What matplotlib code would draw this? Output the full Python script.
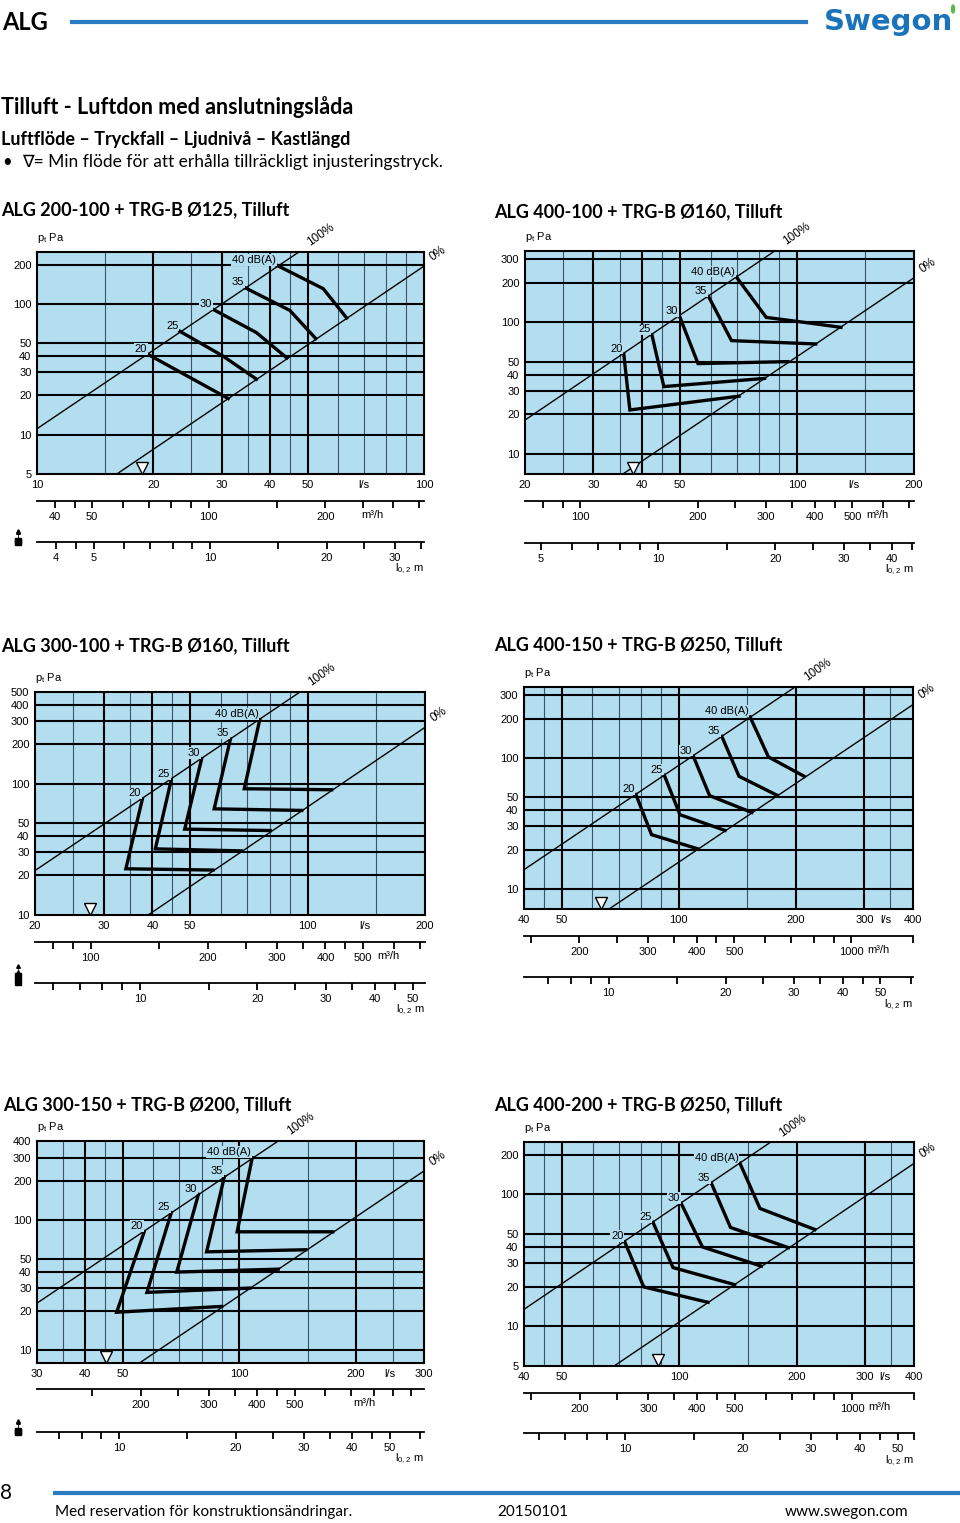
import matplotlib.pyplot as plt
from matplotlib.lines import Line2D
from matplotlib.patches import Ellipse
from matplotlib.ticker import NullLocator

plt.rcParams['font.family'] = ['Liberation Sans', 'DejaVu Sans']
TITLE_FONT = ['Lato', 'DejaVu Sans']

BG = '#b2def0'
BLUE = '#2a7bbf'
W, H = 960, 1523

LABELS = ["20", "25", "30", "35", "40 dB(A)"]

# ---------------- data ----------------
# 1) ALG 200-100 + TRG-B Ø125
p1_title = "ALG 200-100 + TRG-B Ø125, Tilluft"
p1_xlim, p1_ylim = (10, 100), (5, 250)
p1_xticks = [10, 20, 30, 40, 50, 100]
p1_yticks = [5, 10, 20, 30, 40, 50, 100, 200]
p1_hgrid = [10, 20, 30, 40, 50, 100, 200]
p1_vmajor = [20, 30, 40, 50]
p1_vminor = [15, 25, 35, 45, 60, 70, 80, 90]
p1_ls_at = 70
p1_open = [(10, 11.1), (47.5, 250)]       # 100 %
p1_closed = [(16.08, 5), (100, 195)]      # 0 %
p1_curves = [
    [(19.4, 41.0), (31.2, 18.9)],
    [(23.4, 61.8), (30.3, 39.8), (36.9, 26.6)],
    [(28.6, 90.5), (36.9, 60.4), (44.2, 38.7)],
    [(34.6, 132.5), (45.0, 89.4), (52.5, 54.4)],
    [(41.8, 197.0), (54.9, 131.0), (63.1, 78.2)],
]
p1_min_flow = 18.7
p1_m3h_ticks = [40, 45, 50, 60, 70, 80, 90, 100, 150, 200, 250, 300, 350]
p1_m3h_labels = [40, 50, 100, 200]
p1_m3h_unit_at = 265
p1_throw_per_ls = 0.357
p1_throw_ticks = [4, 4.5, 5, 6, 7, 8, 9, 10, 15, 20, 25, 30, 35]
p1_throw_labels = [4, 5, 10, 20, 30]

# 2) ALG 400-100 + TRG-B Ø160
p2_title = "ALG 400-100 + TRG-B Ø160, Tilluft"
p2_xlim, p2_ylim = (20, 200), (7.05, 348)
p2_xticks = [20, 30, 40, 50, 100, 200]
p2_yticks = [10, 20, 30, 40, 50, 100, 200, 300]
p2_hgrid = [10, 20, 30, 40, 50, 100, 200, 300]
p2_vmajor = [30, 40, 50, 100]
p2_vminor = [25, 35, 45, 60, 70, 80, 90, 150]
p2_ls_at = 140
p2_open = [(20, 18.1), (87.7, 348)]
p2_closed = [(35.7, 7.05), (200, 218)]
p2_curves = [
    [(35.9, 57.1), (37.2, 21.6), (71.0, 27.5)],
    [(42.4, 80.1), (45.5, 32.5), (82.6, 37.5)],
    [(50.0, 110.0), (55.7, 48.6), (94.8, 50.3)],
    [(59.3, 156.6), (67.9, 72.6), (111.8, 68.5)],
    [(70.0, 219.6), (83.4, 109.0), (109.0, 98.3), (129.8, 91.6)],
]
p2_min_flow = 38.0
p2_m3h_ticks = [80, 90, 100, 150, 200, 250, 300, 350, 400, 450, 500, 600, 700]
p2_m3h_labels = [100, 200, 300, 400, 500]
p2_m3h_unit_at = 580
p2_throw_per_ls = 0.2275
p2_throw_ticks = [5, 6, 7, 8, 9, 10, 15, 20, 25, 30, 35, 40, 45]
p2_throw_labels = [5, 10, 20, 30, 40]

# 3) ALG 300-100 + TRG-B Ø160
p3_title = "ALG 300-100 + TRG-B Ø160, Tilluft"
p3_xlim, p3_ylim = (20, 200), (10, 500)
p3_xticks = [20, 30, 40, 50, 100, 200]
p3_yticks = [10, 20, 30, 40, 50, 100, 200, 300, 400, 500]
p3_hgrid = [20, 30, 40, 50, 100, 200, 300, 400]
p3_vmajor = [30, 40, 50, 100]
p3_vminor = [25, 35, 45, 60, 70, 80, 90, 150]
p3_ls_at = 140
p3_open = [(20, 21.8), (95.6, 500)]
p3_closed = [(39.0, 10), (200, 269)]
p3_curves = [
    [(37.7, 76.4), (34.2, 22.5), (57.2, 22.0)],
    [(44.7, 107.0), (40.7, 31.9), (67.6, 30.8)],
    [(53.5, 155.0), (48.4, 45.1), (80.2, 44.0)],
    [(63.4, 219.0), (57.6, 64.4), (96.6, 62.6)],
    [(75.4, 308.0), (68.8, 91.6), (115.3, 90.0)],
]
p3_min_flow = 27.7
p3_m3h_ticks = [80, 90, 100, 150, 200, 250, 300, 350, 400, 450, 500, 600, 700]
p3_m3h_labels = [100, 200, 300, 400, 500]
p3_m3h_unit_at = 580
p3_throw_per_ls = 0.269
p3_throw_ticks = [6, 7, 8, 9, 10, 15, 20, 25, 30, 35, 40, 45, 50]
p3_throw_labels = [10, 20, 30, 40, 50]

# 4) ALG 400-150 + TRG-B Ø250
p4_title = "ALG 400-150 + TRG-B Ø250, Tilluft"
p4_xlim, p4_ylim = (40, 400), (7.04, 348)
p4_xticks = [40, 50, 100, 200, 300, 400]
p4_yticks = [10, 20, 30, 40, 50, 100, 200, 300]
p4_hgrid = [10, 20, 30, 40, 50, 100, 200, 300]
p4_vmajor = [50, 100, 200, 300]
p4_vminor = [45, 60, 70, 80, 90, 150, 350]
p4_ls_at = 340
p4_open = [(40, 14.05), (199, 348)]
p4_closed = [(66.2, 7.04), (400, 255.5)]
p4_curves = [
    [(77.6, 52.5), (85.1, 26.0), (112.2, 20.2)],
    [(91.8, 73.7), (100.7, 36.9), (131.5, 28.0)],
    [(109.0, 103.0), (120.0, 51.6), (154.0, 38.4)],
    [(129.0, 146.0), (142.8, 72.5), (179.0, 51.9)],
    [(152.5, 205.6), (170.0, 101.8), (210.0, 72.5)],
]
p4_min_flow = 63.0
p4_m3h_ticks = [150, 200, 250, 300, 350, 400, 450, 500, 600, 700, 800, 900, 1000, 1440]
p4_m3h_labels = [200, 300, 400, 500, 1000]
p4_m3h_unit_at = 1175
p4_throw_per_ls = 0.1516
p4_throw_ticks = [7, 8, 9, 10, 15, 20, 25, 30, 35, 40, 45, 50, 60]
p4_throw_labels = [10, 20, 30, 40, 50]

# 5) ALG 300-150 + TRG-B Ø200
p5_title = "ALG 300-150 + TRG-B Ø200, Tilluft"
p5_xlim, p5_ylim = (30, 300), (8, 402)
p5_xticks = [30, 40, 50, 100, 200, 300]
p5_yticks = [10, 20, 30, 40, 50, 100, 200, 300, 400]
p5_hgrid = [10, 20, 30, 40, 50, 100, 200, 300]
p5_vmajor = [40, 50, 100, 200]
p5_vminor = [35, 45, 60, 70, 80, 90, 150, 250]
p5_ls_at = 245
p5_open = [(30, 23.0), (126, 402)]
p5_closed = [(55.2, 8.0), (300, 237)]
p5_curves = [
    [(56.8, 81.4), (48.2, 19.6), (90.0, 21.7)],
    [(66.7, 113.8), (57.7, 27.8), (106.5, 30.0)],
    [(78.4, 157.0), (68.9, 39.8), (126.0, 41.9)],
    [(91.5, 214.7), (82.3, 56.9), (148.5, 59.0)],
    [(108.0, 300.0), (98.7, 81.0), (174.4, 81.0)],
]
p5_min_flow = 45.3
p5_m3h_ticks = [150, 200, 250, 300, 350, 400, 450, 500, 600, 700, 800, 900, 1000]
p5_m3h_labels = [200, 300, 400, 500]
p5_m3h_unit_at = 758
p5_throw_per_ls = 0.2045
p5_throw_ticks = [7, 8, 9, 10, 15, 20, 25, 30, 35, 40, 45, 50, 60]
p5_throw_labels = [10, 20, 30, 40, 50]

# 6) ALG 400-200 + TRG-B Ø250
p6_title = "ALG 400-200 + TRG-B Ø250, Tilluft"
p6_xlim, p6_ylim = (40, 400), (5, 250)
p6_xticks = [40, 50, 100, 200, 300, 400]
p6_yticks = [5, 10, 20, 30, 40, 50, 100, 200]
p6_hgrid = [10, 20, 30, 40, 50, 100, 200]
p6_vmajor = [50, 100, 200, 300]
p6_vminor = [45, 60, 70, 80, 90, 150, 350]
p6_ls_at = 336
p6_open = [(40, 13.45), (171.3, 248.6)]
p6_closed = [(68.1, 5), (400, 172)]
p6_curves = [
    [(72.5, 43.7), (81.1, 19.9), (118.6, 15.2)],
    [(85.7, 61.3), (96.4, 27.9), (138.8, 20.7)],
    [(101.2, 85.4), (114.7, 40.0), (162.4, 28.6)],
    [(121.0, 121.2), (135.4, 56.2), (190.5, 39.5)],
    [(143.2, 172.0), (161.1, 78.3), (222.8, 54.2)],
]
p6_min_flow = 88.3
p6_m3h_ticks = [150, 200, 250, 300, 350, 400, 450, 500, 600, 700, 800, 900, 1000, 1440]
p6_m3h_labels = [200, 300, 400, 500, 1000]
p6_m3h_unit_at = 1175
p6_throw_per_ls = 0.1376
p6_throw_ticks = [6, 7, 8, 9, 10, 15, 20, 25, 30, 35, 40, 45, 50, 55]
p6_throw_labels = [10, 20, 30, 40, 50]


def fx(x):
    return x / W


def fy(y):
    return 1 - y / H


fig = plt.figure(figsize=(W / 100, H / 100), dpi=100)


def ftext(x, y, s, **kw):
    fig.text(fx(x), fy(y), s, **kw)


def scale_axis(left, right, y, lim, ticks, labels):
    a = fig.add_axes([fx(left), fy(y), fx(right - left), 1 / H])
    a.set_xscale('log')
    a.set_xlim(lim)
    for s in ['top', 'left', 'right']:
        a.spines[s].set_visible(False)
    a.spines['bottom'].set_linewidth(1.3)
    a.patch.set_visible(False)
    a.set_yticks([])
    a.set_xticks(ticks)
    a.set_xticklabels([str(t) if t in labels else '' for t in ticks])
    a.xaxis.set_minor_locator(NullLocator())
    a.tick_params(axis='x', direction='out', length=5, width=1.3, pad=3, labelsize=8)
    return a


def panel(box, m3y, thy, title_xy, title, xlim, ylim, xticks, yticks, hgrid, vmajor,
          vminor, ls_at, line_open, line_closed, curves, min_flow, m3h_ticks,
          m3h_labels, m3h_unit_at, throw_per_ls, throw_ticks, throw_labels):
    left, top, right, bottom = box
    ax = fig.add_axes([fx(left), fy(bottom), fx(right - left), (bottom - top) / H])
    ax.set_xscale('log')
    ax.set_yscale('log')
    ax.set_xlim(xlim)
    ax.set_ylim(ylim)
    ax.set_facecolor(BG)
    for s in ax.spines.values():
        s.set_linewidth(1.5)

    for v in vminor:
        ax.axvline(v, color='#3b5566', lw=0.8, zorder=1)
    for v in vmajor:
        ax.axvline(v, color='black', lw=1.5, zorder=1)
    for h in hgrid:
        ax.axhline(h, color='black', lw=1.5, zorder=1)

    for ln in (line_open, line_closed):
        ax.plot([p[0] for p in ln], [p[1] for p in ln], color='black', lw=1.0, zorder=2)

    for lab, c in zip(LABELS, curves):
        ax.plot([p[0] for p in c], [p[1] for p in c], color='black', lw=2.4,
                solid_joinstyle='miter', zorder=3)
        ax.annotate(lab, xy=c[0], xytext=(-1, 0.5), textcoords='offset points',
                    ha='right', va='bottom', fontsize=8, zorder=4,
                    bbox=dict(fc=BG, ec='none', pad=0.6))

    ax.annotate('100%', xy=line_open[-1], xytext=(16, 12), textcoords='offset points',
                ha='center', va='center', rotation=35, fontsize=8.5, annotation_clip=False)
    ax.annotate('0%', xy=line_closed[-1], xytext=(10, 9), textcoords='offset points',
                ha='center', va='center', rotation=35, fontsize=8.5, annotation_clip=False)

    ax.plot([min_flow], [0.025], transform=ax.get_xaxis_transform(), marker='v',
            ms=9, mfc='white', mec='black', mew=1.0, clip_on=False, zorder=5)

    ax.xaxis.set_minor_locator(NullLocator())
    ax.yaxis.set_minor_locator(NullLocator())
    ax.set_xticks(xticks + [ls_at])
    ax.set_xticklabels([str(t) for t in xticks] + ['l/s'])
    ax.set_yticks(yticks)
    ax.set_yticklabels([str(t) for t in yticks])
    ax.tick_params(length=0, labelsize=8, pad=4)

    ax.annotate(r'$\mathregular{p_t}$ Pa', xy=(0, 1), xycoords='axes fraction',
                xytext=(0, 5), textcoords='offset points', ha='left', va='bottom',
                fontsize=8)

    ftext(title_xy[0], title_xy[1], title, fontsize=13, fontweight='bold',
          family=TITLE_FONT, va='center', ha='left')

    # m3/h scale
    a1 = scale_axis(left, right, m3y, (xlim[0] * 3.6, xlim[1] * 3.6),
                    m3h_ticks, m3h_labels)
    a1.annotate('m³/h', xy=(m3h_unit_at, 0), xycoords=('data', 'axes fraction'),
                xytext=(0, -6.6), textcoords='offset points', ha='center', va='top',
                fontsize=8)

    # throw length scale
    a2 = scale_axis(left, right, thy, (xlim[0] * throw_per_ls, xlim[1] * throw_per_ls),
                    throw_ticks, throw_labels)
    a2.annotate(r'$\mathregular{l_{0,2}}$ m', xy=(1, 0), xycoords='axes fraction',
                xytext=(0, -19.5), textcoords='offset points', ha='right', va='center',
                fontsize=8)
    # throw symbol: small arrow above a square
    fig.add_artist(Line2D([fx(18), fx(18)], [fy(thy - 5), fy(thy - 10)], lw=0.5,
                          color='black'))
    fig.add_artist(Line2D([fx(18)], [fy(thy - 11)], marker='^', ms=2.6,
                          color='black', lw=0))
    fig.add_artist(Line2D([fx(18)], [fy(thy - 1)], marker='s', ms=4.0,
                          color='black', lw=0))


panel((37, 252, 424, 474), 500.7, 541.7, (1, 210), p1_title, p1_xlim, p1_ylim,
      p1_xticks, p1_yticks, p1_hgrid, p1_vmajor, p1_vminor, p1_ls_at, p1_open,
      p1_closed, p1_curves, p1_min_flow, p1_m3h_ticks, p1_m3h_labels, p1_m3h_unit_at,
      p1_throw_per_ls, p1_throw_ticks, p1_throw_labels)
panel((525, 251, 914, 474), 500.7, 542.7, (494, 212), p2_title, p2_xlim, p2_ylim,
      p2_xticks, p2_yticks, p2_hgrid, p2_vmajor, p2_vminor, p2_ls_at, p2_open,
      p2_closed, p2_curves, p2_min_flow, p2_m3h_ticks, p2_m3h_labels, p2_m3h_unit_at,
      p2_throw_per_ls, p2_throw_ticks, p2_throw_labels)
panel((35, 692, 425, 915), 941.7, 982.7, (1, 646), p3_title, p3_xlim, p3_ylim,
      p3_xticks, p3_yticks, p3_hgrid, p3_vmajor, p3_vminor, p3_ls_at, p3_open,
      p3_closed, p3_curves, p3_min_flow, p3_m3h_ticks, p3_m3h_labels, p3_m3h_unit_at,
      p3_throw_per_ls, p3_throw_ticks, p3_throw_labels)
panel((524, 687, 913, 909), 936, 977.3, (494, 645), p4_title, p4_xlim, p4_ylim,
      p4_xticks, p4_yticks, p4_hgrid, p4_vmajor, p4_vminor, p4_ls_at, p4_open,
      p4_closed, p4_curves, p4_min_flow, p4_m3h_ticks, p4_m3h_labels, p4_m3h_unit_at,
      p4_throw_per_ls, p4_throw_ticks, p4_throw_labels)
panel((37, 1141, 424, 1363), 1389.3, 1431.7, (3, 1105), p5_title, p5_xlim, p5_ylim,
      p5_xticks, p5_yticks, p5_hgrid, p5_vmajor, p5_vminor, p5_ls_at, p5_open,
      p5_closed, p5_curves, p5_min_flow, p5_m3h_ticks, p5_m3h_labels, p5_m3h_unit_at,
      p5_throw_per_ls, p5_throw_ticks, p5_throw_labels)
panel((524, 1142, 914, 1366), 1392.7, 1433.3, (494, 1105), p6_title, p6_xlim, p6_ylim,
      p6_xticks, p6_yticks, p6_hgrid, p6_vmajor, p6_vminor, p6_ls_at, p6_open,
      p6_closed, p6_curves, p6_min_flow, p6_m3h_ticks, p6_m3h_labels, p6_m3h_unit_at,
      p6_throw_per_ls, p6_throw_ticks, p6_throw_labels)

# header
ftext(2, 22, 'ALG', fontsize=17, fontweight='bold', family=TITLE_FONT, va='center')
fig.add_artist(Line2D([fx(72), fx(806)], [fy(22), fy(22)], lw=3, color=BLUE))
ftext(824, 22, 'Swegon', fontsize=21, fontweight='bold', color='#1b74bb',
      family='DejaVu Sans', va='center', ha='left')
fig.add_artist(Ellipse((fx(953), fy(9)), 3 / W, 8 / H, color='#5cb848'))

ftext(1, 107, 'Tilluft - Luftdon med anslutningslåda', fontsize=15.5,
      fontweight='bold', family=TITLE_FONT, va='center')
ftext(1, 139, 'Luftflöde – Tryckfall – Ljudnivå – Kastlängd', fontsize=13,
      fontweight='bold', family=TITLE_FONT, va='center')
ftext(2, 162, '•', fontsize=12, family=TITLE_FONT, va='center')
ftext(22, 162, '∇= Min flöde för att erhålla tillräckligt injusteringstryck.',
      fontsize=12.5, family=TITLE_FONT, va='center')

# footer
ftext(0, 1493, '8', fontsize=15, family=TITLE_FONT, va='center')
fig.add_artist(Line2D([fx(55), fx(960)], [fy(1493), fy(1493)], lw=3, color=BLUE))
ftext(55, 1512, 'Med reservation för konstruktionsändringar.', fontsize=11,
      family=TITLE_FONT, va='center')
ftext(497, 1512, '20150101', fontsize=11, family=TITLE_FONT, va='center')
ftext(785, 1512, 'www.swegon.com', fontsize=11, family=TITLE_FONT, va='center')

fig.savefig('out.png', dpi=100)
